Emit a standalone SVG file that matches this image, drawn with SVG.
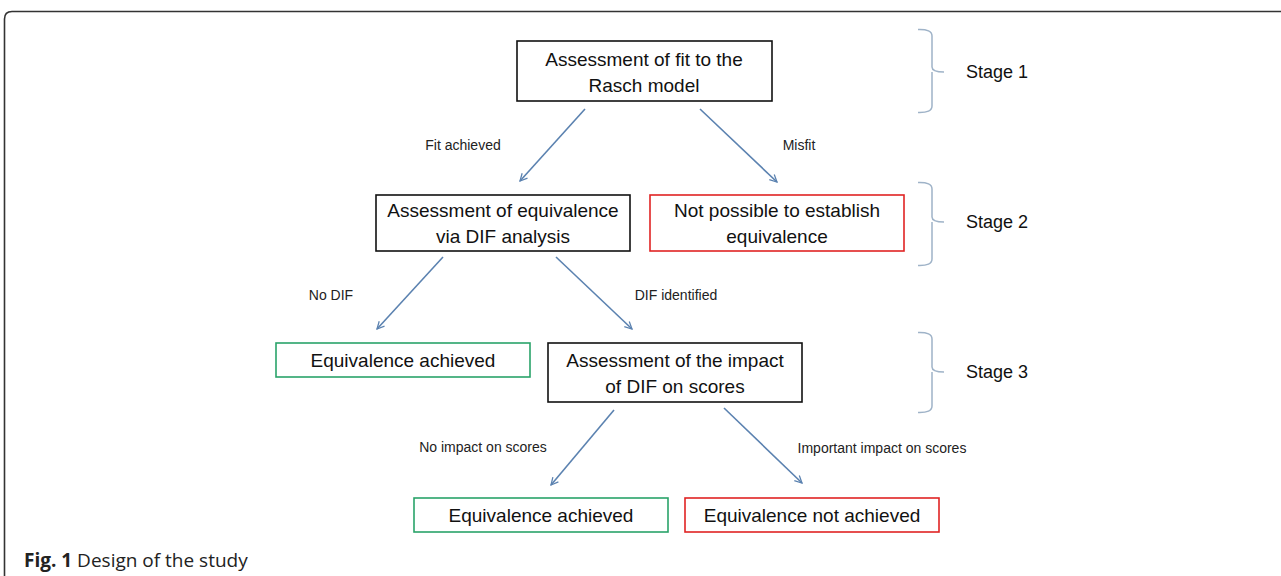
<svg xmlns="http://www.w3.org/2000/svg" width="1281" height="576" viewBox="0 0 1281 576">
<defs>
<style>
.box{fill:#fff;stroke:#111;stroke-width:1.6}
.red{fill:#fff;stroke:#e02424;stroke-width:1.6}
.green{fill:#fff;stroke:#2aa36a;stroke-width:1.6}
.t{font-family:"Liberation Sans",Arial,sans-serif;font-size:19px;fill:#111;text-anchor:middle}
.lbl{font-family:"Liberation Sans",Arial,sans-serif;font-size:14px;fill:#222;text-anchor:middle}
.stage{font-family:"Liberation Sans",Arial,sans-serif;font-size:18px;fill:#111}
.arr{stroke:#5b82b0;stroke-width:1.6;fill:none;marker-end:url(#ah)}
.brace{stroke:#9fb3c8;stroke-width:1.5;fill:none}
</style>
<marker id="ah" viewBox="0 0 10 10" refX="9" refY="5" markerWidth="9" markerHeight="9" orient="auto" markerUnits="userSpaceOnUse">
<path d="M1,1 L9,5 L1,9" fill="none" stroke="#5b82b0" stroke-width="1.4"/>
</marker>
</defs>
<rect width="1281" height="576" fill="#fff"/>
<path d="M4.5,576 V19 Q4.5,11.5 12,11.5 H1281" fill="none" stroke="#333" stroke-width="1.6"/>

<g id="connectors">
<line class="arr" x1="585" y1="109" x2="520" y2="181"/>
<line class="arr" x1="700" y1="109" x2="777" y2="182"/>
<line class="arr" x1="443" y1="257" x2="377" y2="329"/>
<line class="arr" x1="556" y1="257" x2="632" y2="329"/>
<line class="arr" x1="614" y1="410" x2="551" y2="485"/>
<line class="arr" x1="724" y1="408" x2="802" y2="483"/>
<text class="lbl" x="463" y="150">Fit achieved</text>
<text class="lbl" x="799" y="150">Misfit</text>
<text class="lbl" x="331" y="300">No DIF</text>
<text class="lbl" x="676" y="300">DIF identified</text>
<text class="lbl" x="483" y="452">No impact on scores</text>
<text class="lbl" x="882" y="453">Important  impact on scores</text>
</g>

<g id="n1"><rect class="box" x="517" y="41" width="255" height="60"/>
<text class="t" x="644" y="66">Assessment of fit to the</text>
<text class="t" x="644" y="92">Rasch model</text></g>

<g id="n2"><rect class="box" x="376" y="195" width="254" height="56"/>
<text class="t" x="503" y="217">Assessment of equivalence</text>
<text class="t" x="503" y="243">via DIF analysis</text></g>

<g id="n3"><rect class="red" x="650" y="195" width="254" height="56"/>
<text class="t" x="777" y="217">Not possible to establish</text>
<text class="t" x="777" y="243">equivalence</text></g>

<g id="n4"><rect class="green" x="276" y="343" width="254" height="34"/>
<text class="t" x="403" y="367">Equivalence achieved</text></g>

<g id="n5"><rect class="box" x="548" y="343" width="254" height="59"/>
<text class="t" x="675" y="367">Assessment of the impact</text>
<text class="t" x="675" y="393">of DIF on scores</text></g>

<g id="n6"><rect class="green" x="414" y="498" width="254" height="34"/>
<text class="t" x="541" y="522">Equivalence achieved</text></g>

<g id="n7"><rect class="red" x="685" y="498" width="254" height="34"/>
<text class="t" x="812" y="522">Equivalence not achieved</text></g>

<g id="stage1">
<path class="brace" d="M918,29.5 Q932,29 932,36 V67 Q932,72 944,72 M932,72 V106 Q932,113 918,112.5"/>
<text class="stage" x="966" y="78">Stage 1</text></g>
<g id="stage2">
<path class="brace" d="M918,182.5 Q932,182 932,189 V217 Q932,222 944,222 M932,222 V259 Q932,266 918,265.5"/>
<text class="stage" x="966" y="228">Stage 2</text></g>
<g id="stage3">
<path class="brace" d="M918,332.5 Q932,332 932,339 V367 Q932,372 944,372 M932,372 V406 Q932,413 918,412.5"/>
<text class="stage" x="966" y="378">Stage 3</text></g>

<text x="24" y="567" font-family="'Open Sans','Liberation Sans',sans-serif" font-size="19" fill="#222"><tspan font-weight="bold">Fig. 1</tspan> Design of the study</text>
</svg>
